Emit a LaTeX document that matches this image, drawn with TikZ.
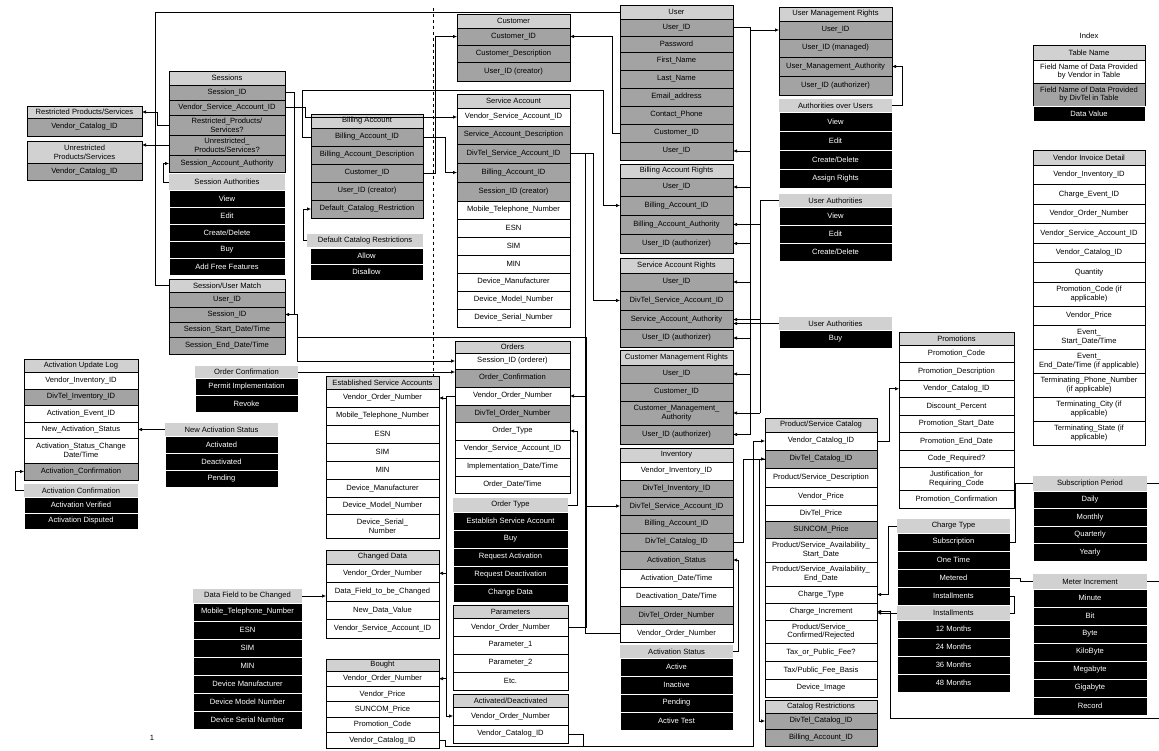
\documentclass[tikz,border=0pt]{standalone}
\usepackage{fontspec}
\setmainfont{Liberation Sans}
\usetikzlibrary{arrows.meta,calc}
\definecolor{hdg}{gray}{0.82}
\definecolor{dtg}{gray}{0.64}
\newcommand\fs{\fontsize{7.6}{8.6}\selectfont}
% column of stacked cells: left x, right x, top y
\newcommand\tcol[3]{\def\cxl{#1}\def\cxr{#2}\def\cy{#3}}
% one cell: style, name, height, text
\newcommand\trow[4]{%
  \pgfmathsetmacro\cw{\cxr-\cxl}%
  \node[#1,minimum width=\cw pt,minimum height=#3 pt,anchor=north west] (#2) at (\cxl,\cy) {#4};%
  \pgfmathsetmacro\cy{\cy+#3}%
}
\begin{document}
\begin{tikzpicture}[x=1pt,y=-1pt,
  cell/.style={draw=black,line width=0.7pt,inner sep=0pt,outer sep=0pt,font=\fs,align=center},
  hd/.style={cell,fill=hdg},
  dv/.style={cell,fill=dtg},
  vn/.style={cell,fill=white},
  val/.style={cell,fill=black,draw=white,line width=0.5pt,text=white},
  lab/.style={cell,draw=none,fill=hdg},
  cn/.style={draw=black,line width=0.6pt},
  ar/.style={cn,-{Latex[length=4pt,width=3.4pt]}}
]
\fill[white] (0,0) rectangle (1159,751);
\useasboundingbox (0,0) rectangle (1159,751);

% divider
\draw[dashed,line width=0.6pt] (433,8) -- (433,400);

% ---------------- left column
\tcol{27}{142}{106}
\trow{hd}{rHdr}{12}{Restricted Products/Services}
\trow{dv}{rVCI}{18}{Vendor\_Catalog\_ID}
\tcol{27}{142}{141}
\trow{hd}{unrHdr}{22}{Unrestricted\\Products/Services}
\trow{dv}{unrVCI}{17}{Vendor\_Catalog\_ID}

\tcol{24}{138}{359}
\trow{hd}{aulHdr}{13}{Activation Update Log}
\trow{vn}{aulVII}{17}{Vendor\_Inventory\_ID}
\trow{dv}{aulDII}{16}{DivTel\_Inventory\_ID}
\trow{vn}{aulAEI}{17}{Activation\_Event\_ID}
\trow{vn}{aulNAS}{16}{New\_Activation\_Status}
\trow{vn}{aulASC}{25}{Activation\_Status\_Change\\Date/Time}
\trow{dv}{aulAC}{17}{Activation\_Confirmation}
\tcol{24}{138}{484}
\trow{lab}{acHdr}{13}{Activation Confirmation}
\trow{val}{acVer}{16}{Activation Verified}
\trow{val}{acDis}{16}{Activation Disputed}

% ---------------- sessions column
\tcol{169}{285}{71}
\trow{hd}{sHdr}{14}{Sessions}
\trow{dv}{sSID}{15}{Session\_ID}
\trow{dv}{sVSA}{15}{Vendor\_Service\_Account\_ID}
\trow{dv}{sRes}{20}{Restricted\_Products/\\Services?}
\trow{dv}{sUnr}{20}{Unrestricted\_\\Products/Services?}
\trow{dv}{sSAA}{17}{Session\_Account\_Authority}
\tcol{169}{285}{174}
\trow{lab}{saHdr}{16}{Session Authorities}
\trow{val}{saView}{17}{View}
\trow{val}{saEdit}{17}{Edit}
\trow{val}{saCD}{17}{Create/Delete}
\trow{val}{saBuy}{17}{Buy}
\trow{val}{saAFF}{17}{Add Free Features}
\tcol{169}{285}{279}
\trow{hd}{sumHdr}{13}{Session/User Match}
\trow{dv}{sumUID}{15}{User\_ID}
\trow{dv}{sumSID}{15}{Session\_ID}
\trow{dv}{sumStart}{15}{Session\_Start\_Date/Time}
\trow{dv}{sumEnd}{17}{Session\_End\_Date/Time}
\tcol{195}{298}{366}
\trow{lab}{ocHdr}{12}{Order Confirmation}
\trow{val}{ocPI}{17}{Permit Implementation}
\trow{val}{ocRv}{17}{Revoke}
\tcol{165}{278}{423}
\trow{lab}{nasHdr}{13}{New Activation Status}
\trow{val}{nasAct}{17}{Activated}
\trow{val}{nasDea}{17}{Deactivated}
\trow{val}{nasPen}{17}{Pending}
\tcol{193}{302}{589}
\trow{lab}{dfHdr}{14}{Data Field to be Changed}
\trow{val}{dfMob}{18}{Mobile\_Telephone\_Number}
\trow{val}{dfESN}{18}{ESN}
\trow{val}{dfSIM}{18}{SIM}
\trow{val}{dfMIN}{18}{MIN}
\trow{val}{dfDM}{18}{Device Manufacturer}
\trow{val}{dfDMN}{18}{Device Model Number}
\trow{val}{dfDSN}{18}{Device Serial Number}
\node[font=\fs] (pgno) at (152,738) {1};

% ---------------- billing account column
\tcol{311}{423}{114}
\trow{hd}{baHdr}{14}{Billing Account}
\trow{dv}{baBAI}{18}{Billing\_Account\_ID}
\trow{dv}{baBAD}{18}{Billing\_Account\_Description}
\trow{dv}{baCID}{18}{Customer\_ID}
\trow{dv}{baUID}{18}{User\_ID (creator)}
\trow{dv}{baDCR}{18}{Default\_Catalog\_Restriction}
\tcol{307}{423}{234}
\trow{lab}{dcrHdr}{13}{Default Catalog Restrictions}
\tcol{310}{423}{248}
\trow{val}{dcrA}{16}{Allow}
\trow{val}{dcrD}{16}{Disallow}

\tcol{326}{439}{376}
\trow{hd}{esaHdr}{13}{Established Service Accounts}
\trow{vn}{esaVON}{18}{Vendor\_Order\_Number}
\trow{vn}{esaMob}{18}{Mobile\_Telephone\_Number}
\trow{vn}{esaESN}{18}{ESN}
\trow{vn}{esaSIM}{18}{SIM}
\trow{vn}{esaMIN}{18}{MIN}
\trow{vn}{esaDM}{18}{Device\_Manufacturer}
\trow{vn}{esaDMN}{17}{Device\_Model\_Number}
\trow{vn}{esaDSN}{24}{Device\_Serial\_\\Number}
\tcol{326}{439}{550}
\trow{hd}{cdHdr}{14}{Changed Data}
\trow{vn}{cdVON}{18.5}{Vendor\_Order\_Number}
\trow{vn}{cdDF}{18.5}{Data\_Field\_to\_be\_Changed}
\trow{vn}{cdNDV}{18.5}{New\_Data\_Value}
\trow{vn}{cdVSA}{18.5}{Vendor\_Service\_Account\_ID}
\tcol{326}{439}{659}
\trow{hd}{bHdr}{12}{Bought}
\trow{vn}{bVON}{15.4}{Vendor\_Order\_Number}
\trow{vn}{bVP}{15.4}{Vendor\_Price}
\trow{vn}{bSP}{15.4}{SUNCOM\_Price}
\trow{vn}{bPC}{15.4}{Promotion\_Code}
\trow{vn}{bVCI}{15.4}{Vendor\_Catalog\_ID}

% ---------------- customer / service account / orders column
\tcol{457}{570}{14}
\trow{hd}{cHdr}{14}{Customer}
\trow{dv}{cCID}{17}{Customer\_ID}
\trow{dv}{cCD}{17}{Customer\_Description}
\trow{dv}{cUID}{19}{User\_ID (creator)}
\tcol{457}{570}{94}
\trow{hd}{saccHdr}{14}{Service Account}
\trow{vn}{saVSA}{18}{Vendor\_Service\_Account\_ID}
\trow{dv}{saSAD}{18}{Service\_Account\_Description}
\trow{dv}{saDSAI}{19}{DivTel\_Service\_Account\_ID}
\trow{dv}{saBAI}{19}{Billing\_Account\_ID}
\trow{dv}{saSID}{19}{Session\_ID (creator)}
\trow{vn}{saMob}{18}{Mobile\_Telephone\_Number}
\trow{vn}{saESN}{18}{ESN}
\trow{vn}{saSIM}{18}{SIM}
\trow{vn}{saMIN}{18}{MIN}
\trow{vn}{saDM}{18}{Device\_Manufacturer}
\trow{vn}{saDMN}{18}{Device\_Model\_Number}
\trow{vn}{saDSN}{18}{Device\_Serial\_Number}
\tcol{455}{570}{341}
\trow{hd}{oHdr}{12}{Orders}
\trow{vn}{oSID}{16}{Session\_ID (orderer)}
\trow{dv}{oOC}{18}{Order\_Confirmation}
\trow{vn}{oVON}{18}{Vendor\_Order\_Number}
\trow{dv}{oDON}{17}{DivTel\_Order\_Number}
\trow{vn}{oOT}{18}{Order\_Type}
\trow{vn}{oVSA}{18}{Vendor\_Service\_Account\_ID}
\trow{vn}{oIDT}{18}{Implementation\_Date/Time}
\trow{vn}{oODT}{17}{Order\_Date/Time}
\tcol{453}{568}{498}
\trow{lab}{otHdr}{14}{Order Type}
\trow{val}{otESA}{18}{Establish Service Account}
\trow{val}{otBuy}{18}{Buy}
\trow{val}{otRA}{18}{Request Activation}
\trow{val}{otRD}{18}{Request Deactivation}
\trow{val}{otCD}{18}{Change Data}
\tcol{453}{568}{605}
\trow{hd}{pHdr}{13}{Parameters}
\trow{vn}{pVON}{18}{Vendor\_Order\_Number}
\trow{vn}{pP1}{18}{Parameter\_1}
\trow{vn}{pP2}{18}{Parameter\_2}
\trow{vn}{pEtc}{18}{Etc.}
\tcol{453}{568}{694}
\trow{hd}{adHdr}{13}{Activated/Deactivated}
\trow{vn}{adVON}{18}{Vendor\_Order\_Number}
\trow{vn}{adVCI}{18}{Vendor\_Catalog\_ID}

% ---------------- user column
\tcol{620}{733}{5}
\trow{hd}{uHdr}{14}{User}
\trow{dv}{uUID}{17}{User\_ID}
\trow{dv}{uPW}{16}{Password}
\trow{dv}{uFN}{18}{First\_Name}
\trow{dv}{uLN}{18}{Last\_Name}
\trow{dv}{uEM}{18}{Email\_address}
\trow{dv}{uCP}{18}{Contact\_Phone}
\trow{dv}{uCID}{18}{Customer\_ID}
\trow{dv}{uUIDb}{18}{User\_ID}
\tcol{620}{733}{164}
\trow{hd}{barHdr}{14}{Billing Account Rights}
\trow{dv}{barUID}{18}{User\_ID}
\trow{dv}{barBAI}{19}{Billing\_Account\_ID}
\trow{dv}{barBAA}{19}{Billing\_Account\_Authority}
\trow{dv}{barUIDa}{19}{User\_ID (authorizer)}
\tcol{620}{733}{258}
\trow{hd}{sarHdr}{15}{Service Account Rights}
\trow{dv}{sarUID}{18}{User\_ID}
\trow{dv}{sarDSAI}{19}{DivTel\_Service\_Account\_ID}
\trow{dv}{sarSAA}{19}{Service\_Account\_Authority}
\trow{dv}{sarUIDa}{18}{User\_ID (authorizer)}
\tcol{620}{733}{350}
\trow{hd}{cmrHdr}{15}{Customer Management Rights}
\trow{dv}{cmrUID}{18}{User\_ID}
\trow{dv}{cmrCID}{18}{Customer\_ID}
\trow{dv}{cmrCMA}{24}{Customer\_Management\_\\Authority}
\trow{dv}{cmrUIDa}{19}{User\_ID (authorizer)}
\tcol{620}{733}{448}
\trow{hd}{invHdr}{14}{Inventory}
\trow{vn}{invVII}{18}{Vendor\_Inventory\_ID}
\trow{dv}{invDII}{17}{DivTel\_Inventory\_ID}
\trow{dv}{invDSAI}{18}{DivTel\_Service\_Account\_ID}
\trow{dv}{invBAI}{18}{Billing\_Account\_ID}
\trow{dv}{invDCI}{18}{DivTel\_Catalog\_ID}
\trow{dv}{invAS}{18}{Activation\_Status}
\trow{vn}{invADT}{18}{Activation\_Date/Time}
\trow{vn}{invDDT}{19}{Deactivation\_Date/Time}
\trow{dv}{invDON}{18}{DivTel\_Order\_Number}
\trow{vn}{invVON}{18}{Vendor\_Order\_Number}
\tcol{620}{733}{645}
\trow{lab}{asHdr}{13}{Activation Status}
\trow{val}{asAct}{18}{Active}
\trow{val}{asIna}{18}{Inactive}
\trow{val}{asPen}{18}{Pending}
\trow{val}{asTst}{18}{Active Test}

% ---------------- user rights column
\tcol{779}{892}{7}
\trow{hd}{umrHdr}{14}{User Management Rights}
\trow{dv}{umrUID}{18}{User\_ID}
\trow{dv}{umrUIDm}{18}{User\_ID (managed)}
\trow{dv}{umrUMA}{19}{User\_Management\_Authority}
\trow{dv}{umrUIDa}{19}{User\_ID (authorizer)}
\tcol{779}{892}{99}
\trow{lab}{aouHdr}{13}{Authorities over Users}
\trow{val}{aouV}{19}{View}
\trow{val}{aouE}{19}{Edit}
\trow{val}{aouCD}{19}{Create/Delete}
\trow{val}{aouAR}{19}{Assign Rights}
\tcol{779}{892}{194}
\trow{lab}{uaHdr}{13}{User Authorities}
\trow{val}{uaV}{18}{View}
\trow{val}{uaE}{18}{Edit}
\trow{val}{uaCD}{18}{Create/Delete}
\tcol{779}{892}{317}
\trow{lab}{ubHdr}{13}{User Authorities}
\trow{val}{ubBuy}{18}{Buy}

% ---------------- catalog column
\tcol{765}{877}{418}
\trow{hd}{pscHdr}{14}{Product/Service Catalog}
\trow{vn}{pscVCI}{18}{Vendor\_Catalog\_ID}
\trow{dv}{pscDCI}{18}{DivTel\_Catalog\_ID}
\trow{vn}{pscPSD}{19}{Product/Service\_Description}
\trow{vn}{pscVP}{18}{Vendor\_Price}
\trow{vn}{pscDP}{16}{DivTel\_Price}
\trow{dv}{pscSP}{17}{SUNCOM\_Price}
\trow{vn}{pscAS}{24}{Product/Service\_Availability\_\\Start\_Date}
\trow{vn}{pscAE}{24}{Product/Service\_Availability\_\\End\_Date}
\trow{vn}{pscCT}{17}{Charge\_Type}
\trow{vn}{pscCI}{17}{Charge\_Increment}
\trow{vn}{pscCR}{23}{Product/Service\_\\Confirmed/Rejected}
\trow{vn}{pscTF}{18}{Tax\_or\_Public\_Fee?}
\trow{vn}{pscTB}{18}{Tax/Public\_Fee\_Basis}
\trow{vn}{pscDI}{18}{Device\_Image}
\tcol{765}{877}{700}
\trow{hd}{crHdr}{13}{Catalog Restrictions}
\trow{dv}{crDCI}{16}{DivTel\_Catalog\_ID}
\trow{dv}{crBAI}{17}{Billing\_Account\_ID}

\tcol{899}{1014}{332}
\trow{hd}{prHdr}{13}{Promotions}
\trow{vn}{prPC}{17.5}{Promotion\_Code}
\trow{vn}{prPD}{17.5}{Promotion\_Description}
\trow{vn}{prVCI}{17.5}{Vendor\_Catalog\_ID}
\trow{vn}{prDP}{17.5}{Discount\_Percent}
\trow{vn}{prSD}{17.5}{Promotion\_Start\_Date}
\trow{vn}{prED}{17.5}{Promotion\_End\_Date}
\trow{vn}{prCR}{17.5}{Code\_Required?}
\trow{vn}{prJ}{23}{Justification\_for\\Requiring\_Code}
\trow{vn}{prC}{18}{Promotion\_Confirmation}

\tcol{897}{1010}{519}
\trow{lab}{ctHdr}{14}{Charge Type}
\trow{val}{ctSub}{18}{Subscription}
\trow{val}{ctOT}{18}{One Time}
\trow{val}{ctMet}{18}{Metered}
\trow{val}{ctIns}{18}{Installments}
\tcol{897}{1010}{606}
\trow{lab}{inHdr}{14}{Installments}
\trow{val}{in12}{18}{12 Months}
\trow{val}{in24}{18}{24 Months}
\trow{val}{in36}{18}{36 Months}
\trow{val}{in48}{18}{48 Months}

% ---------------- right column
\node[font=\fs] (idxT) at (1089,36) {Index};
\tcol{1033}{1145}{45}
\trow{hd}{idxTN}{15}{Table Name}
\trow{vn}{idxV}{23}{Field Name of Data Provided\\by Vendor in Table}
\trow{dv}{idxD}{23}{Field Name of Data Provided\\by DivTel in Table}
\trow{val}{idxDV}{15}{Data Value}
\tcol{1033}{1145}{150}
\trow{hd}{vidHdr}{15}{Vendor Invoice Detail}
\trow{vn}{vidVII}{19.5}{Vendor\_Inventory\_ID}
\trow{vn}{vidCEI}{19.5}{Charge\_Event\_ID}
\trow{vn}{vidVON}{19.5}{Vendor\_Order\_Number}
\trow{vn}{vidVSA}{19.5}{Vendor\_Service\_Account\_ID}
\trow{vn}{vidVCI}{19.5}{Vendor\_Catalog\_ID}
\trow{vn}{vidQ}{19.5}{Quantity}
\trow{vn}{vidPC}{24}{Promotion\_Code (if\\applicable)}
\trow{vn}{vidVP}{19}{Vendor\_Price}
\trow{vn}{vidES}{24}{Event\_\\Start\_Date/Time}
\trow{vn}{vidEE}{24}{Event\_\\End\_Date/Time (if applicable)}
\trow{vn}{vidTP}{24}{Terminating\_Phone\_Number\\(if applicable)}
\trow{vn}{vidTC}{24}{Terminating\_City (if\\applicable)}
\trow{vn}{vidTS}{24}{Terminating\_State (if\\applicable)}
\tcol{1033}{1147}{476}
\trow{lab}{spHdr}{15}{Subscription Period}
\trow{val}{spD}{17.5}{Daily}
\trow{val}{spM}{17.5}{Monthly}
\trow{val}{spQ}{17.5}{Quarterly}
\trow{val}{spY}{17.5}{Yearly}
\tcol{1033}{1147}{574}
\trow{lab}{miHdr}{15}{Meter Increment}
\trow{val}{miMin}{18}{Minute}
\trow{val}{miBit}{18}{Bit}
\trow{val}{miByte}{18}{Byte}
\trow{val}{miKB}{18}{KiloByte}
\trow{val}{miMB}{18}{Megabyte}
\trow{val}{miGB}{18}{Gigabyte}
\trow{val}{miRec}{18}{Record}

% ================= connectors
% sessions area
\draw[cn] (sumHdr.west) -- ++(-14,0) |- (uHdr.west);
\draw[ar] (sRes.west) -- ++(-12,0) |- (rHdr.east);
\draw[ar] (sUnr.west) -- (sUnr.west -| unrHdr.east);
\draw[ar] (saHdr.west) -- ++(-6,0) |- (sSAA.west);
\draw[ar] (sSID.east) -- ++(9,0) |- (sumSID.east);
\draw[ar] (sumSID.east) -- ++(12,0) |- (oSID.west);
\coordinate (j2) at (586,337);
\draw[cn] (sumSID.east) -- ++(12,0) |- (j2) |- (pVON.east);
\draw[ar] (sVSA.east) -- ++(20,0) |- (saVSA.west);
\draw[ar] (ocHdr.east) -- (ocHdr.east -| oOC.west);
\draw[ar] (nasHdr.west) -- (nasHdr.west -| aulNAS.east);
\draw[ar] (acHdr.west) -- ++(-9,0) |- (aulAC.west);
\draw[ar] (dfHdr.east) -- (dfHdr.east -| cdDF.west);
% billing / customer
\coordinate (j1) at (603,90);
\draw[ar] (baBAI.west) -- ++(-9,0) |- (j1) |- (barBAI.west);
\draw[ar] (baCID.east) -- ++(12,0) |- (cCID.west);
\draw[ar] (uCID.west) -- ++(-8,0) |- (cCID.east);
\draw[ar] (baBAI.east) -- ++(22,0) |- (saBAI.west);
\draw[ar] (dcrHdr.west) -- ++(-4,0) |- (baDCR.west);
\draw[ar] (saDSAI.east) -- ++(23,0) |- (sarDSAI.west);
\draw[ar] (saDSAI.east) -- ++(15,0) |- (invDSAI.west);
% user id bus
\coordinate (ubus) at ($(uUID.east)+(17,0)$);
\draw[cn] (uUID.east) -- (ubus) -- (ubus |- cmrUIDa.east);
\draw[ar] (ubus) |- (umrUID.west);
\foreach \t in {uUIDb,barUID,barUIDa,sarUID,sarUIDa,cmrUID,cmrUIDa}
  \draw[ar] (ubus |- \t.east) -- (\t.east);
% user authorities bus
\coordinate (abus) at ($(uaHdr.west)+(-19,0)$);
\draw[cn] (uaHdr.west) -- (abus) -- (abus |- cmrCMA.east);
\foreach \t in {barBAA,sarSAA,cmrCMA}
  \draw[ar] (abus |- \t.east) -- (\t.east);
\draw[ar] (ubHdr.west) -- (ubHdr.west -| sarSAA.east);
\draw[ar] (aouHdr.east) -- ++(10,0) |- (umrUMA.east);
% orders area
\draw[ar] (invVON.west) -- ++(-35,0) |- (oVON.east);
\draw[ar] (otHdr.east) -- ++(9,0) |- (oOT.east);
\coordinate (obus) at ($(oVON.west)+(-9,0)$);
\draw[cn] (oVON.west) -- (obus) -- (obus |- adVON.west);
\foreach \t in {esaVON,cdVON,bVON}
  \draw[ar] (obus |- \t.east) -- (\t.east);
\draw[ar] (obus |- adVON.west) -- (adVON.west);
% catalog area
\coordinate (vb) at (753,746);
\draw[ar] (adVCI.east) -- ++(15,0) |- (vb) |- (pscVCI.west);
\draw[cn] (bVCI.east) -- ++(6,0) |- (vb);
\draw[ar] (invDCI.east) -- ++(10,0) |- (pscDCI.west);
\draw[ar] (pscDCI.west) -- ++(-6,0) |- (crDCI.west);
\draw[ar] (asHdr.east) -- ++(5,0) |- (invAS.east);
\draw[ar] (pscVCI.east) -- ++(12,0) |- (prVCI.west);
\draw[ar] (ctHdr.west) -- ++(-9,0) |- (pscCT.east);
\draw[ar] (inHdr.west) -- (inHdr.west -| pscCI.east);
\draw[cn] (ctIns.east) -- ++(4,0) |- (inHdr.east);
\draw[cn] (ctMet.east) -- ++(10,0) |- (miHdr.west);
\coordinate (e1) at (1159,581.5);
\coordinate (e2) at (1159,718);
\coordinate (e3) at (1159,483.5);
\coordinate (k1) at (890,718);
\draw[cn] (miHdr.east) -- (e1);
\draw[ar] (e2) -- (k1) |- (pscCI.east);
\draw[cn] (spHdr.west) -- ++(-18,0) |- (ctSub.east);
\draw[cn] (spHdr.east) -- (e3);
\end{tikzpicture}
\end{document}
